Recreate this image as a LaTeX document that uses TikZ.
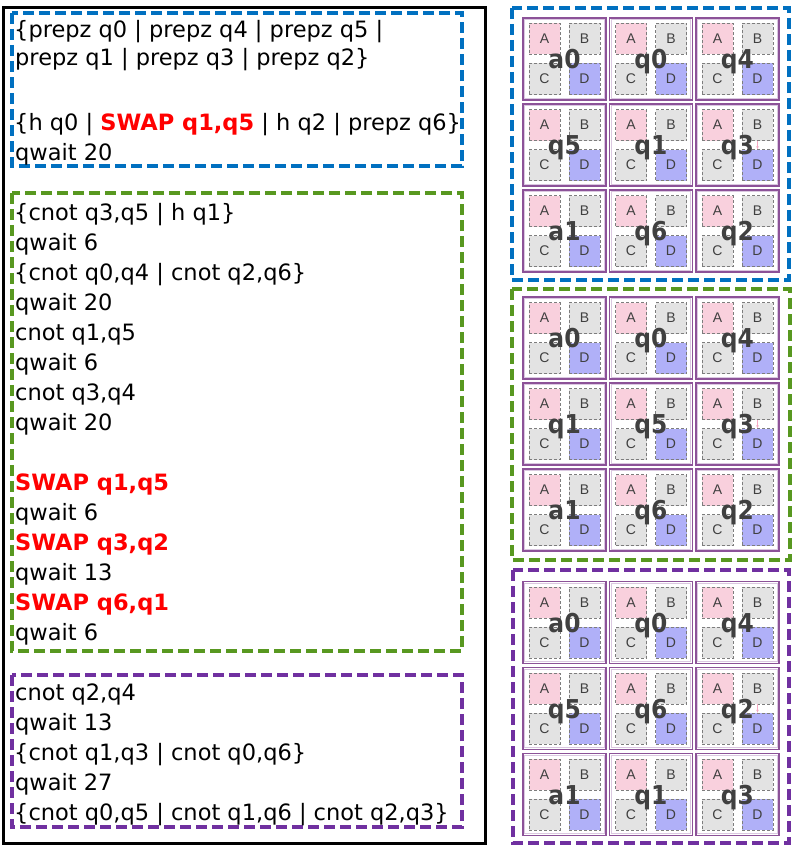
\documentclass[tikz,border=0pt]{standalone}
\usepackage{fontspec}
\usepackage{graphicx}
\setmainfont{DejaVu Sans}
\newfontfamily\letterfont{Liberation Sans}
\usetikzlibrary{arrows.meta}
\definecolor{blueD}{RGB}{0,112,192}
\definecolor{greenD}{RGB}{88,152,32}
\definecolor{purpleD}{RGB}{112,48,160}
\definecolor{cellP}{RGB}{140,82,152}
\definecolor{cellL}{RGB}{218,200,224}
\definecolor{sqA}{RGB}{249,208,221}
\definecolor{sqG}{RGB}{227,227,227}
\definecolor{sqD}{RGB}{176,176,248}
\definecolor{sqEdge}{RGB}{125,125,125}
\definecolor{labG}{RGB}{64,64,64}
\definecolor{redT}{RGB}{255,0,0}
\definecolor{pinkArrow}{RGB}{245,170,195}
\newcommand\qcell[4]{%
  \node[cellbox] (#1) at (#2+41.5,#3+41) {};
  \node[cellinner] (#1in) at (#1.center) {};
  \node[sqbox,fill=sqA] (#1A) at (#2+21.5,#3+21) {A};
  \node[sqbox,fill=sqG] (#1B) at (#2+61.5,#3+21) {B};
  \node[sqbox,fill=sqG] (#1C) at (#2+21.5,#3+61) {C};
  \node[sqbox,fill=sqD] (#1D) at (#2+61.5,#3+61) {D};
  \node[cellname] (#1lab) at (#2+41.5,#3+50.5) {\scalebox{0.9}[1]{#4}};
}
\begin{document}
\begin{tikzpicture}[x=1pt,y=-1pt,
  framebox/.style={draw=black,line width=3pt},
  dbox/.style={line width=3.5pt,dash pattern=on 11pt off 5pt},
  code/.style={anchor=base west,inner sep=0pt,font=\fontsize{22.5}{30}\selectfont},
  swap/.style={text=redT,font=\bfseries\fontsize{22.5}{30}\selectfont},
  cellbox/.style={draw=cellP,line width=1.3pt,minimum width=83pt,minimum height=82pt,inner sep=0pt},
  cellinner/.style={draw=cellL,line width=0.8pt,minimum width=79.5pt,minimum height=78.5pt,inner sep=0pt},
  sqbox/.style={draw=sqEdge,line width=0.7pt,dash pattern=on 3pt off 2pt,minimum width=31pt,minimum height=31pt,inner sep=0pt,font=\letterfont\fontsize{14}{14}\selectfont,text=labG},
  cellname/.style={anchor=base,inner sep=0pt,font=\bfseries\fontsize{26}{26}\selectfont,text=labG},
  pinkarr/.style={draw=pinkArrow,line width=0.6pt,-{Stealth[length=3pt,width=2.5pt]}}
]
\useasboundingbox (0,0) rectangle (796,851);
\fill[white] (0,0) rectangle (796,851);

% left frame
\draw[framebox] (3,8) rectangle (485,843);
\draw[dbox,draw=blueD] (12,13) rectangle (462,166);
\draw[dbox,draw=greenD] (12,193) rectangle (462,651);
\draw[dbox,draw=purpleD] (12,675) rectangle (462,827);

% blue block text
\node[code] (b1) at (14,37.5) {\{prepz q0 | prepz q4 | prepz q5 |};
\node[code] (b2) at (15,65.5) {prepz q1 | prepz q3 | prepz q2\}};
\node[code] (b3) at (14,130) {\{h q0 | {\bfseries\color{redT}SWAP q1,q5} | h q2 | prepz q6\}};
\node[code] (b4) at (15,160.5) {qwait 20};

% green block text
\node[code] (g1) at (14,220) {\{cnot q3,q5 | h q1\}};
\node[code] (g2) at (15,250) {qwait 6};
\node[code] (g3) at (14,280) {\{cnot q0,q4 | cnot q2,q6\}};
\node[code] (g4) at (15,310) {qwait 20};
\node[code] (g5) at (15,340) {cnot q1,q5};
\node[code] (g6) at (15,370) {qwait 6};
\node[code] (g7) at (15,400) {cnot q3,q4};
\node[code] (g8) at (15,430) {qwait 20};
\node[code,swap] (g9) at (15,490) {SWAP q1,q5};
\node[code] (g10) at (15,520) {qwait 6};
\node[code,swap] (g11) at (15,550) {SWAP q3,q2};
\node[code] (g12) at (15,580) {qwait 13};
\node[code,swap] (g13) at (15,610) {SWAP q6,q1};
\node[code] (g14) at (15,640) {qwait 6};

% purple block text
\node[code] (p1) at (15,700) {cnot q2,q4};
\node[code] (p2) at (15,730) {qwait 13};
\node[code] (p3) at (14,760) {\{cnot q1,q3 | cnot q0,q6\}};
\node[code] (p4) at (15,790) {qwait 27};
\node[code] (p5) at (14,820) {\{cnot q0,q5 | cnot q1,q6 | cnot q2,q3\}};

% right dashed frames
\draw[dbox,draw=blueD] (512,8) rectangle (789,280);
\draw[dbox,draw=greenD] (512,289) rectangle (790,560);
\draw[dbox,draw=purpleD] (513,570) rectangle (789,843);

% grids
\foreach \lab [count=\k from 0] in {a0,q0,q4,q5,q1,q3,a1,q6,q2} {
  \pgfmathtruncatemacro\r{int(\k/3)}
  \pgfmathtruncatemacro\c{mod(\k,3)}
  \qcell{ga\r\c}{523+86.5*\c}{18+86*\r}{\lab}
}
\foreach \lab [count=\k from 0] in {a0,q0,q4,q1,q5,q3,a1,q6,q2} {
  \pgfmathtruncatemacro\r{int(\k/3)}
  \pgfmathtruncatemacro\c{mod(\k,3)}
  \qcell{gb\r\c}{523+86.5*\c}{297+86*\r}{\lab}
}
\foreach \lab [count=\k from 0] in {a0,q0,q4,q5,q6,q2,a1,q1,q3} {
  \pgfmathtruncatemacro\r{int(\k/3)}
  \pgfmathtruncatemacro\c{mod(\k,3)}
  \qcell{gc\r\c}{523+86.5*\c}{581.5+86*\r}{\lab}
}
\draw[pinkarr] (ga12B.south) -- (ga12D.north);
\draw[pinkarr] (gb12B.south) -- (gb12D.north);
\draw[pinkarr] (gc12B.south) -- (gc12D.north);
\end{tikzpicture}
\end{document}
